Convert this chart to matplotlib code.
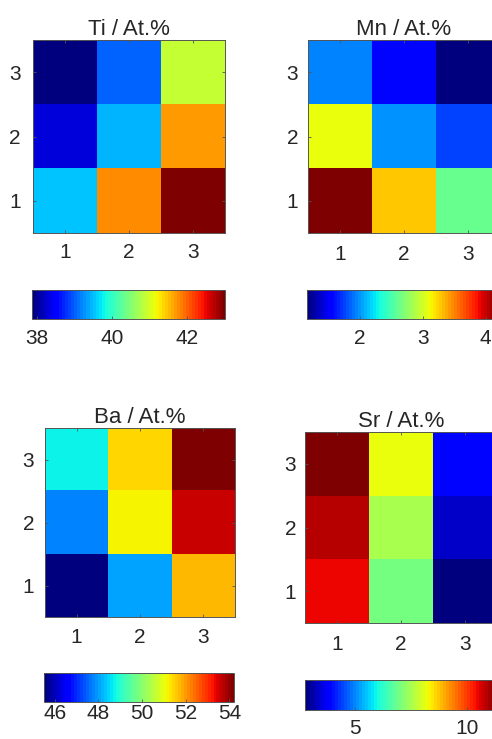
import numpy as np
import matplotlib
matplotlib.use("Agg")
import matplotlib.pyplot as plt

plt.rcParams['font.family'] = ['Liberation Sans', 'DejaVu Sans']

# Data: rows = y (1..3 bottom to top), cols = x (1..3)
titles = ["Ti / At.%", "Mn / At.%", "Ba / At.%", "Sr / At.%"]
ti_vals = [[39.55, 41.72, 43.00],
           [38.28, 39.47, 41.67],
           [37.87, 39.02, 40.90]]
mn_vals = [[4.22, 3.28, 2.61],
           [3.09, 2.00, 1.74],
           [1.93, 1.59, 1.16]]
ba_vals = [[45.52, 48.09, 51.66],
           [47.80, 51.14, 53.58],
           [48.66, 51.50, 54.23]]
sr_vals = [[10.50, 6.97, 2.76],
           [10.84, 7.49, 3.40],
           [11.36, 8.15, 3.92]]
clims = [(37.87, 43.0), (1.16, 4.22), (45.52, 54.23), (2.76, 11.36)]
cbar_ticks = [[38, 40, 42], [2, 3, 4], [46, 48, 50, 52, 54], [5, 10]]
axis_ticks = [1, 2, 3]

W, H = 492, 739
fig = plt.figure(figsize=(W / 100, H / 100), dpi=100)

def rect(x0, y0, x1, y1):
    return [x0 / W, 1 - y1 / H, (x1 - x0) / W, (y1 - y0) / H]

ax_rects = [rect(33, 40, 225, 233), rect(308, 40, 500, 233),
            rect(45, 428, 235, 617), rect(305, 432, 497, 623)]
cb_rects = [rect(32.3, 290, 225, 319), rect(307.3, 290, 499.5, 319),
            rect(44.3, 673, 234.3, 702), rect(305, 680, 497, 710)]
xpads = [10, 12, 11, 12]      # px
ypads = [12, 10, 11, 9]       # px
cbpads = [10, 10, 2, 9]       # px

cmap = plt.get_cmap('jet').resampled(64)
txt = '#262626'
edge = '#555555'
px = 0.72  # points per pixel at 100 dpi

for i, vals in enumerate([ti_vals, mn_vals, ba_vals, sr_vals]):
    ax = fig.add_axes(ax_rects[i])
    im = ax.imshow(np.array(vals), origin='lower', cmap=cmap,
                   vmin=clims[i][0], vmax=clims[i][1],
                   extent=[0.5, 3.5, 0.5, 3.5], aspect='auto',
                   interpolation='nearest')
    ax.set_xticks(axis_ticks)
    ax.set_yticks(axis_ticks)
    ax.tick_params(direction='in', length=2.5, width=0.6, color=edge,
                   labelsize=15, labelcolor=txt, top=True, right=True)
    ax.tick_params(axis='x', pad=xpads[i] * px)
    ax.tick_params(axis='y', pad=ypads[i] * px)
    for s in ax.spines.values():
        s.set_color(edge)
        s.set_linewidth(0.7)
    ax.set_title(titles[i], fontsize=16, color=txt, pad=3.5)

    cax = fig.add_axes(cb_rects[i])
    cb = fig.colorbar(im, cax=cax, orientation='horizontal')
    cb.set_ticks(cbar_ticks[i])
    cb.ax.tick_params(direction='in', length=2.5, width=0.6, color=edge,
                      labelsize=15, labelcolor=txt, pad=cbpads[i] * px)
    cb.outline.set_edgecolor(edge)
    cb.outline.set_linewidth(0.7)

fig.savefig('out.png', dpi=100)
